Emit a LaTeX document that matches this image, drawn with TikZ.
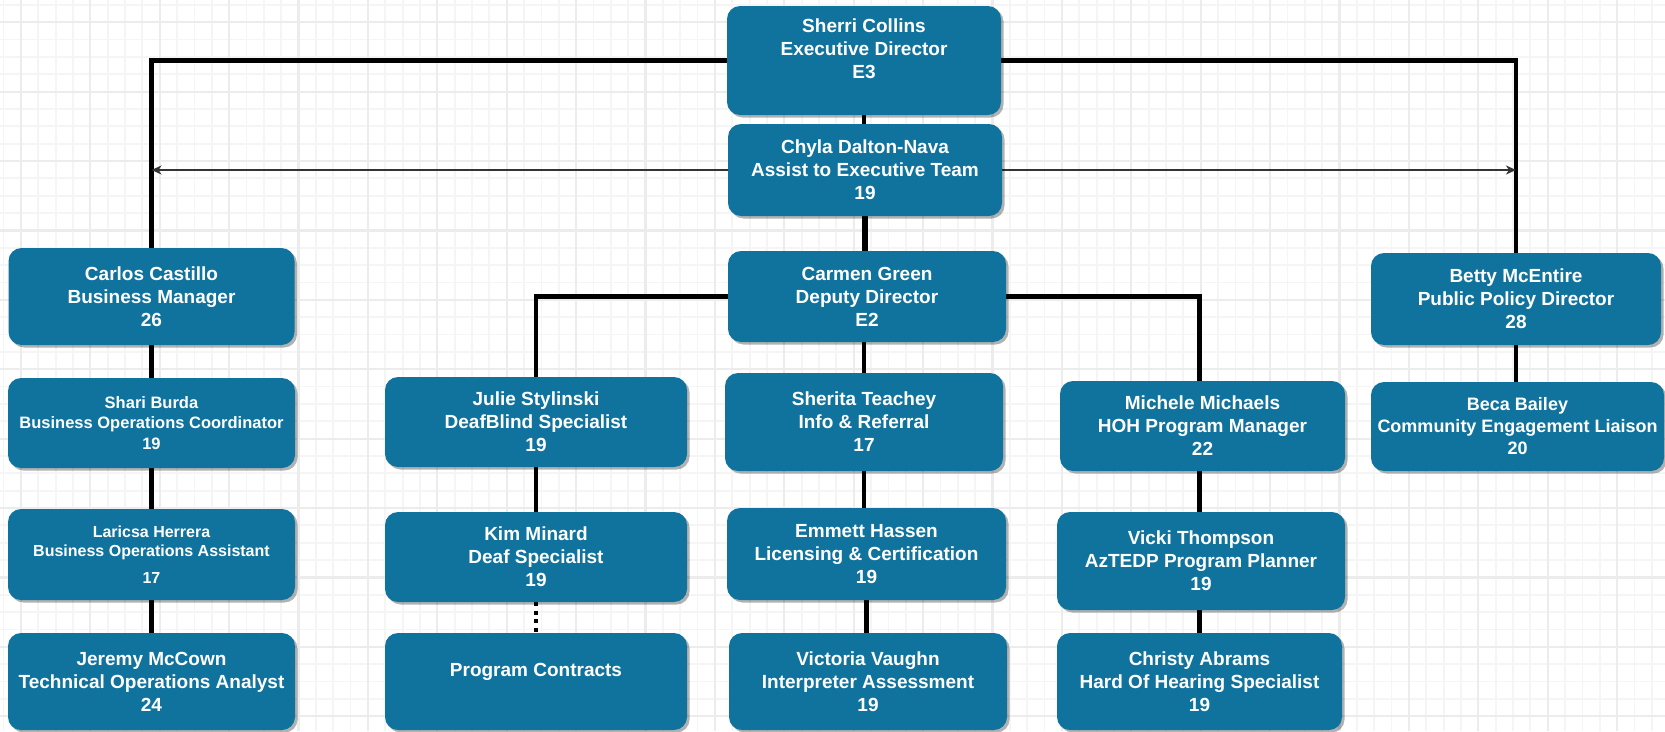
\documentclass[tikz,border=0pt]{standalone}
\usepackage{fontspec}
\setmainfont{Liberation Sans}
\usetikzlibrary{arrows.meta,shadows,calc}
\definecolor{boxblue}{HTML}{10739E}
\definecolor{gridminor}{gray}{0.96}
\definecolor{gridmajor}{gray}{0.925}
\definecolor{arrowgray}{HTML}{333333}
\pgfdeclarelayer{gridlayer}
\pgfdeclarelayer{linelayer}
\pgfsetlayers{gridlayer,linelayer,main}
\tikzset{
  orgbox/.style={rectangle, rounded corners=13pt, fill=boxblue, text=white,
    inner sep=0pt, align=center,
    font=\bfseries\fontsize{19}{23}\selectfont,
    drop shadow={shadow xshift=2.5pt, shadow yshift=-2.5pt, opacity=0.3, fill=black}},
  smallA/.style={font=\bfseries\fontsize{16.5}{20.5}\selectfont},
  smallB/.style={font=\bfseries\fontsize{16}{19}\selectfont},
  smallC/.style={font=\bfseries\fontsize{18}{22}\selectfont},
  link/.style={line width=4.5pt, black},
  linkthick/.style={line width=6pt, black},
  dotlink/.style={line width=4.5pt, black, dash pattern=on 4pt off 4.5pt},
  thinarrow/.style={line width=1.5pt, arrowgray, -{Stealth[length=10pt,width=9pt,inset=3pt]}},
  minorline/.style={gridminor, line width=1.8pt},
  majorline/.style={gridmajor, line width=2.2pt},
}
\begin{document}
\begin{tikzpicture}[x=1pt,y=-1pt]
\useasboundingbox (0,0) rectangle (1665,731);
\begin{pgfonlayer}{gridlayer}
  \fill[white] (0,0) rectangle (1665,731);
  \foreach \i in {0,...,96} {\draw[minorline] ({3.55+17.35*\i},0) -- ({3.55+17.35*\i},731);}
  \foreach \j in {0,...,42} {\draw[minorline] (0,{4.85+17.35*\j}) -- (1665,{4.85+17.35*\j});}
  \foreach \i in {1,5,...,93} {\draw[majorline] ({3.55+17.35*\i},0) -- ({3.55+17.35*\i},731);}
  \foreach \j in {1,5,...,41} {\draw[majorline] (0,{4.85+17.35*\j}) -- (1665,{4.85+17.35*\j});}
\end{pgfonlayer}

% boxes
\node[orgbox, minimum width=274pt, minimum height=109pt] (sherri) at (864,60.5) {Sherri Collins\\Executive Director\\E3\\\mbox{}};
\node[orgbox, minimum width=274pt, minimum height=92pt] (chyla) at (865,170) {Chyla Dalton-Nava\\Assist to Executive Team\\19};
\node[orgbox, minimum width=278pt, minimum height=91pt] (carmen) at (867,296.5) {Carmen Green\\Deputy Director\\E2};
\node[orgbox, minimum width=286pt, minimum height=97pt] (carlos) at (151.5,296.5) {Carlos Castillo\\Business Manager\\26};
\node[orgbox, minimum width=290pt, minimum height=92pt] (betty) at (1516,299) {Betty McEntire\\Public Policy Director\\28};
\node[orgbox, smallA, minimum width=287pt, minimum height=90pt] (shari) at (151.5,423) {Shari Burda\\Business Operations Coordinator\\19};
\node[orgbox, smallB, minimum width=287pt, minimum height=91pt] (laricsa) at (151.5,554.5) {Laricsa Herrera\\Business Operations Assistant\\[8pt]17};
\node[orgbox, minimum width=287pt, minimum height=97pt] (jeremy) at (151.5,681.5) {Jeremy McCown\\Technical Operations Analyst\\24};
\node[orgbox, minimum width=302pt, minimum height=90pt] (julie) at (536,422) {Julie Stylinski\\DeafBlind Specialist\\19};
\node[orgbox, minimum width=302pt, minimum height=90pt] (kim) at (536,557) {Kim Minard\\Deaf Specialist\\19};
\node[orgbox, minimum width=302pt, minimum height=97pt] (contracts) at (536,681.5) {Program Contracts\\\mbox{}};
\node[orgbox, minimum width=278pt, minimum height=98pt] (sherita) at (864,422) {Sherita Teachey\\Info \& Referral\\17};
\node[orgbox, minimum width=279pt, minimum height=92pt] (emmett) at (866.5,554) {Emmett Hassen\\Licensing \& Certification\\19};
\node[orgbox, minimum width=278pt, minimum height=97pt] (victoria) at (868,681.5) {Victoria Vaughn\\Interpreter Assessment\\19};
\node[orgbox, minimum width=285pt, minimum height=90pt] (michele) at (1202.5,426) {Michele Michaels\\HOH Program Manager\\22};
\node[orgbox, minimum width=288pt, minimum height=98pt] (vicki) at (1201,561) {Vicki Thompson\\AzTEDP Program Planner\\19};
\node[orgbox, minimum width=285pt, minimum height=97pt] (christy) at (1199.5,681.5) {Christy Abrams\\Hard Of Hearing Specialist\\19};
\node[orgbox, smallC, minimum width=293pt, minimum height=89pt] (beca) at (1517.5,426.5) {Beca Bailey\\Community Engagement Liaison\\20};

% connectors
\begin{pgfonlayer}{linelayer}
  \draw[link] (sherri.west) -| (carlos.north);
  \draw[link] (sherri.east) -| (betty.north);
  \draw[link] (sherri.south) -- (sherri.south |- chyla.north);
  \draw[linkthick] (chyla.south) -- (chyla.south |- carmen.north);
  \draw[link] (carmen.west) -| (julie.north);
  \draw[link] (carmen.east) -| ([xshift=-3pt]michele.north);
  \draw[link] (sherita.north |- carmen.south) -- (sherita.north);
  \draw[link] (sherita.south) -- (sherita.south |- emmett.north);
  \draw[link] (emmett.south) -- (emmett.south |- victoria.north);
  \draw[link] (carlos.south) -- (shari.north);
  \draw[link] (shari.south) -- (laricsa.north);
  \draw[link] (laricsa.south) -- (jeremy.north);
  \draw[link] (julie.south) -- (kim.north);
  \draw[dotlink] (kim.south) -- (contracts.north);
  \draw[link] ([xshift=-3pt]michele.south) -- ([xshift=-3pt]michele.south |- vicki.north);
  \draw[link] ([xshift=-3pt]michele.south |- vicki.south) -- ([xshift=-3pt]michele.south |- christy.north);
  \draw[link] (betty.south) -- (betty.south |- beca.north);
  \draw[thinarrow] (chyla.west) -- (chyla.west -| carlos.north);
  \draw[thinarrow] (chyla.east) -- (chyla.east -| betty.north);
\end{pgfonlayer}
\end{tikzpicture}
\end{document}
